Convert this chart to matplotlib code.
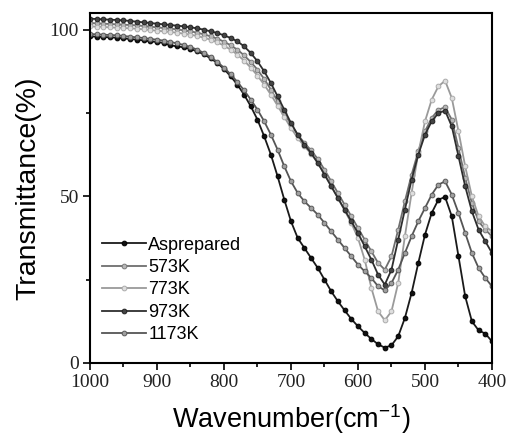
import numpy as np
import matplotlib
matplotlib.use("Agg")
import matplotlib.pyplot as plt
from matplotlib.ticker import MultipleLocator

wavenumber = list(range(1000, 399, -10))

asprepared = [98.0, 97.9, 97.8, 97.7, 97.6, 97.4, 97.2, 97.0, 96.8, 96.5,
              96.3, 96.0, 95.3, 95.0, 94.7, 94.2, 93.5, 92.6, 91.4, 90.0,
              88.2, 86.0, 83.5, 80.5, 77.0, 73.0, 68.0, 62.5, 56.0, 49.0,
              42.5, 37.5, 34.5, 31.5, 28.5, 25.0, 21.5, 18.5, 15.8, 13.2,
              11.0, 9.0, 7.2, 5.6, 4.6, 5.3, 8.0, 13.5, 21.0, 30.0,
              38.5, 45.0, 49.0, 49.8, 44.0, 32.0, 20.0, 12.5, 9.8, 8.8, 6.5]

k573 = [102.0, 101.9, 101.8, 101.7, 101.6, 101.5, 101.4, 101.3, 101.1, 100.9,
        100.7, 100.5, 100.3, 100.1, 99.8, 99.5, 99.1, 98.6, 98.0, 97.3,
        96.4, 95.3, 94.0, 92.3, 90.3, 88.0, 85.2, 82.0, 78.5, 75.0,
        71.5, 68.5, 66.0, 63.8, 61.2, 58.0, 54.5, 51.0, 47.5, 44.0,
        40.5, 37.0, 33.5, 30.0, 28.0, 32.0, 40.0, 48.5, 56.5, 63.5,
        69.5, 73.5, 76.0, 76.7, 73.0, 64.5, 55.5, 48.0, 42.5, 40.0, 38.0]

k773 = [101.0, 100.9, 100.8, 100.7, 100.6, 100.5, 100.4, 100.3, 100.1, 99.9,
        99.7, 99.5, 99.3, 99.1, 98.8, 98.5, 98.1, 97.6, 97.0, 96.2,
        95.2, 94.0, 92.5, 90.7, 88.6, 86.2, 83.5, 80.5, 77.2, 73.8,
        70.5, 67.5, 65.0, 62.8, 60.0, 56.8, 53.2, 49.5, 45.8, 42.0,
        37.5, 31.0, 22.5, 15.5, 12.8, 15.5, 24.0, 38.0, 51.0, 63.0,
        72.5, 79.0, 83.0, 84.7, 79.5, 69.5, 59.0, 50.0, 44.0, 41.0, 39.5]

k973 = [103.3, 103.2, 103.1, 103.0, 102.9, 102.8, 102.6, 102.4, 102.2, 102.0,
        101.8, 101.6, 101.4, 101.2, 101.0, 100.7, 100.4, 100.0, 99.5, 99.0,
        98.3, 97.5, 96.5, 95.0, 93.0, 90.5, 87.5, 84.0, 80.0, 76.0,
        72.0, 68.5, 65.5, 63.0, 60.0, 56.5, 53.0, 49.5, 46.0, 42.5,
        39.0, 35.0, 31.0, 26.5, 23.5, 28.0, 37.0, 46.0, 55.0, 62.5,
        68.5, 72.5, 75.0, 75.7, 71.0, 62.0, 53.0, 45.5, 40.0, 36.5, 33.0]

k1173 = [98.7, 98.6, 98.5, 98.4, 98.3, 98.1, 97.9, 97.7, 97.5, 97.2,
         97.0, 96.7, 96.3, 95.9, 95.4, 94.8, 94.0, 93.0, 91.8, 90.3,
         88.6, 86.6, 84.3, 81.8, 79.0, 76.0, 72.5, 68.5, 64.0, 59.0,
         54.5, 51.0, 48.5, 46.5, 44.5, 42.0, 39.5, 37.0, 34.5, 32.0,
         29.5, 27.5, 25.5, 23.0, 21.8, 24.0, 28.0, 33.0, 38.0, 42.5,
         46.5, 50.5, 53.5, 54.5, 50.5, 45.0, 39.0, 33.0, 28.5, 25.5, 23.0]

labels = ["Asprepared", "573K", "773K", "973K", "1173K"]
series = [asprepared, k573, k773, k973, k1173]
line_colors = ["#1a1a1a", "#6e6e6e", "#9a9a9a", "#2e2e2e", "#555555"]
face_colors = ["#111111", "#b8b8b8", "#dedede", "#444444", "#a0a0a0"]
edge_colors = ["#000000", "#7a7a7a", "#ababab", "#222222", "#5a5a5a"]

plt.rcParams['mathtext.default'] = 'regular'
plt.rcParams['mathtext.fontset'] = 'custom'
plt.rcParams['mathtext.rm'] = 'Liberation Sans'

fig = plt.figure(figsize=(5.07, 4.41), dpi=100)
ax = fig.add_axes([0.1775, 0.1769, 0.7929, 0.7936])

for y, lab, lc, fc, ec in zip(series, labels, line_colors, face_colors, edge_colors):
    ax.plot(wavenumber, y, color=lc, lw=1.3, marker='o', ms=3.4,
            mfc=fc, mec=ec, mew=0.7, label=lab)

ax.set_xlim(1000, 400)
ax.set_ylim(0, 105)
ax.xaxis.set_major_locator(MultipleLocator(100))
ax.xaxis.set_minor_locator(MultipleLocator(50))
ax.yaxis.set_major_locator(MultipleLocator(50))
ax.yaxis.set_minor_locator(MultipleLocator(25))
ax.tick_params(which='both', direction='out', width=1.2, top=False, right=False)
ax.tick_params(which='major', length=5, pad=3)
ax.tick_params(which='minor', length=3)
for lab in ax.get_xticklabels() + ax.get_yticklabels():
    lab.set_fontfamily('Liberation Serif')
    lab.set_fontsize(14)
    lab.set_color('#222222')
for s in ax.spines.values():
    s.set_linewidth(1.5)

ax.set_xlabel('Wavenumber(cm$^{-1}$)', fontfamily='Liberation Sans', fontsize=19.5, labelpad=8)
ax.set_ylabel('Transmittance(%)', fontfamily='Liberation Sans', fontsize=20.5, labelpad=6)

leg = ax.legend(loc='lower left', bbox_to_anchor=(-0.01, 0.01), frameon=False,
                prop={'family': 'Liberation Sans', 'size': 13}, handlelength=2.4,
                labelspacing=0.3, handletextpad=0.15, borderaxespad=0.5)

fig.savefig('out.png', dpi=100)
